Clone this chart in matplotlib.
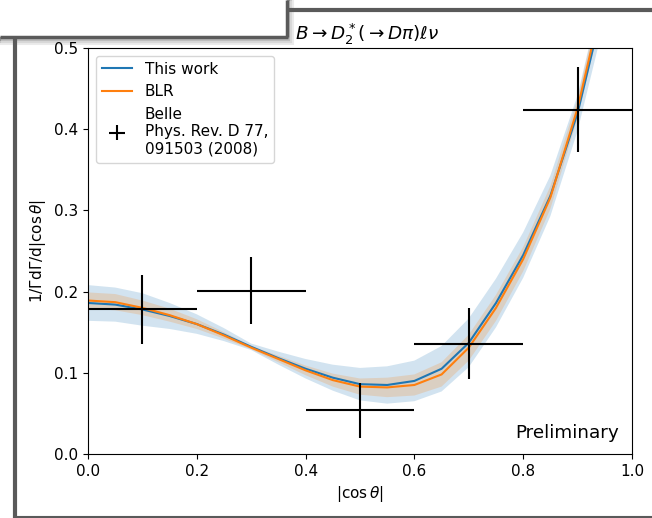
import numpy as np
import matplotlib
matplotlib.use("Agg")
import matplotlib.pyplot as plt
from matplotlib.lines import Line2D
from matplotlib.patches import Rectangle

plt.rcParams["font.size"] = 11

# Theory curves on a grid in |cos theta|
cos_grid = [0.00, 0.05, 0.10, 0.15, 0.20, 0.25, 0.30, 0.35, 0.40, 0.45, 0.50,
            0.55, 0.60, 0.65, 0.70, 0.75, 0.80, 0.85, 0.90, 0.95, 1.00]
this_work = [0.186, 0.184, 0.178, 0.170, 0.160, 0.147, 0.132, 0.118, 0.105, 0.094, 0.086,
             0.085, 0.090, 0.105, 0.137, 0.186, 0.245, 0.318, 0.420, 0.560, 0.750]
this_work_err = [0.022, 0.021, 0.020, 0.016, 0.012, 0.008, 0.004, 0.008, 0.012, 0.016, 0.020,
                 0.023, 0.025, 0.028, 0.030, 0.030, 0.028, 0.025, 0.022, 0.025, 0.028]
blr = [0.189, 0.187, 0.180, 0.171, 0.160, 0.146, 0.131, 0.117, 0.103, 0.091, 0.083,
       0.082, 0.085, 0.098, 0.131, 0.180, 0.240, 0.316, 0.426, 0.570, 0.770]
blr_err = [0.010, 0.010, 0.009, 0.008, 0.006, 0.004, 0.002, 0.004, 0.006, 0.008, 0.010,
           0.012, 0.013, 0.015, 0.016, 0.016, 0.015, 0.014, 0.012, 0.014, 0.015]

# Belle measurement
belle_x = [0.1, 0.3, 0.5, 0.7, 0.9]
belle_xerr = [0.1, 0.1, 0.1, 0.1, 0.1]
belle_y = [0.178, 0.201, 0.054, 0.136, 0.424]
belle_yerr = [0.042, 0.041, 0.034, 0.044, 0.052]

W, H = 652, 518
fig = plt.figure(figsize=(W / 100, H / 100), dpi=100)
ax = fig.add_axes([88 / W, 1 - 454 / H, (632 - 88) / W, (454 - 48) / H])

xg = np.array(cos_grid)
tw = np.array(this_work)
twe = np.array(this_work_err)
bl = np.array(blr)
ble = np.array(blr_err)

ax.fill_between(xg, tw - twe, tw + twe, color="C0", alpha=0.2, linewidth=0)
ax.plot(xg, tw, color="C0", label="This work")
ax.fill_between(xg, bl - ble, bl + ble, color="C1", alpha=0.2, linewidth=0)
ax.plot(xg, bl, color="C1", label="BLR")
ax.errorbar(belle_x, belle_y, xerr=belle_xerr, yerr=belle_yerr, fmt="none",
            ecolor="black", elinewidth=1.5,
            label="Belle\nPhys. Rev. D 77,\n091503 (2008)")

ax.set_xlim(0, 1)
ax.set_ylim(0, 0.5)
ax.set_xlabel(r"$|\cos\theta|$")
ax.set_ylabel(r"$1/\Gamma\mathrm{d}\Gamma/\mathrm{d}|\cos\theta|$")
ax.set_title(r"$B\to D_2^*(\to D\pi)\ell\nu$", fontsize=13.2, x=0.513)
ax.text(0.976, 0.03, "Preliminary", transform=ax.transAxes, ha="right",
        va="bottom", fontsize=13.2)
ax.legend(loc="upper left")

# Window frame decoration around the figure
frame = "#5a5a5a"
def px_line(x0, y0, x1, y1, lw, color=frame):
    fig.add_artist(Line2D([x0 / W, x1 / W], [1 - y0 / H, 1 - y1 / H],
                          transform=fig.transFigure, color=color, linewidth=lw,
                          solid_capstyle="butt"))

px_line(15, 36, 15, 518, 3.0)
px_line(286, 10, 652, 10, 3.0)
px_line(15, 516.5, 652, 516.5, 1.5)
# shadow under the top-left panel
for i, a in enumerate([0.25, 0.15, 0.08]):
    fig.add_artist(Rectangle((0, 1 - (40 + 2 * i) / H), (289 + 2 * i) / W, (40 + 2 * i) / H,
                             transform=fig.transFigure, facecolor="none",
                             edgecolor=(0, 0, 0, a), linewidth=1.5))
fig.add_artist(Rectangle((0, 1 - 37 / H), 287 / W, 37 / H, transform=fig.transFigure,
                         facecolor="white", edgecolor="none"))
px_line(0, 37, 288, 37, 2.5)
px_line(287, 0, 287, 37, 2.5)

fig.savefig("out.png", dpi=100)
